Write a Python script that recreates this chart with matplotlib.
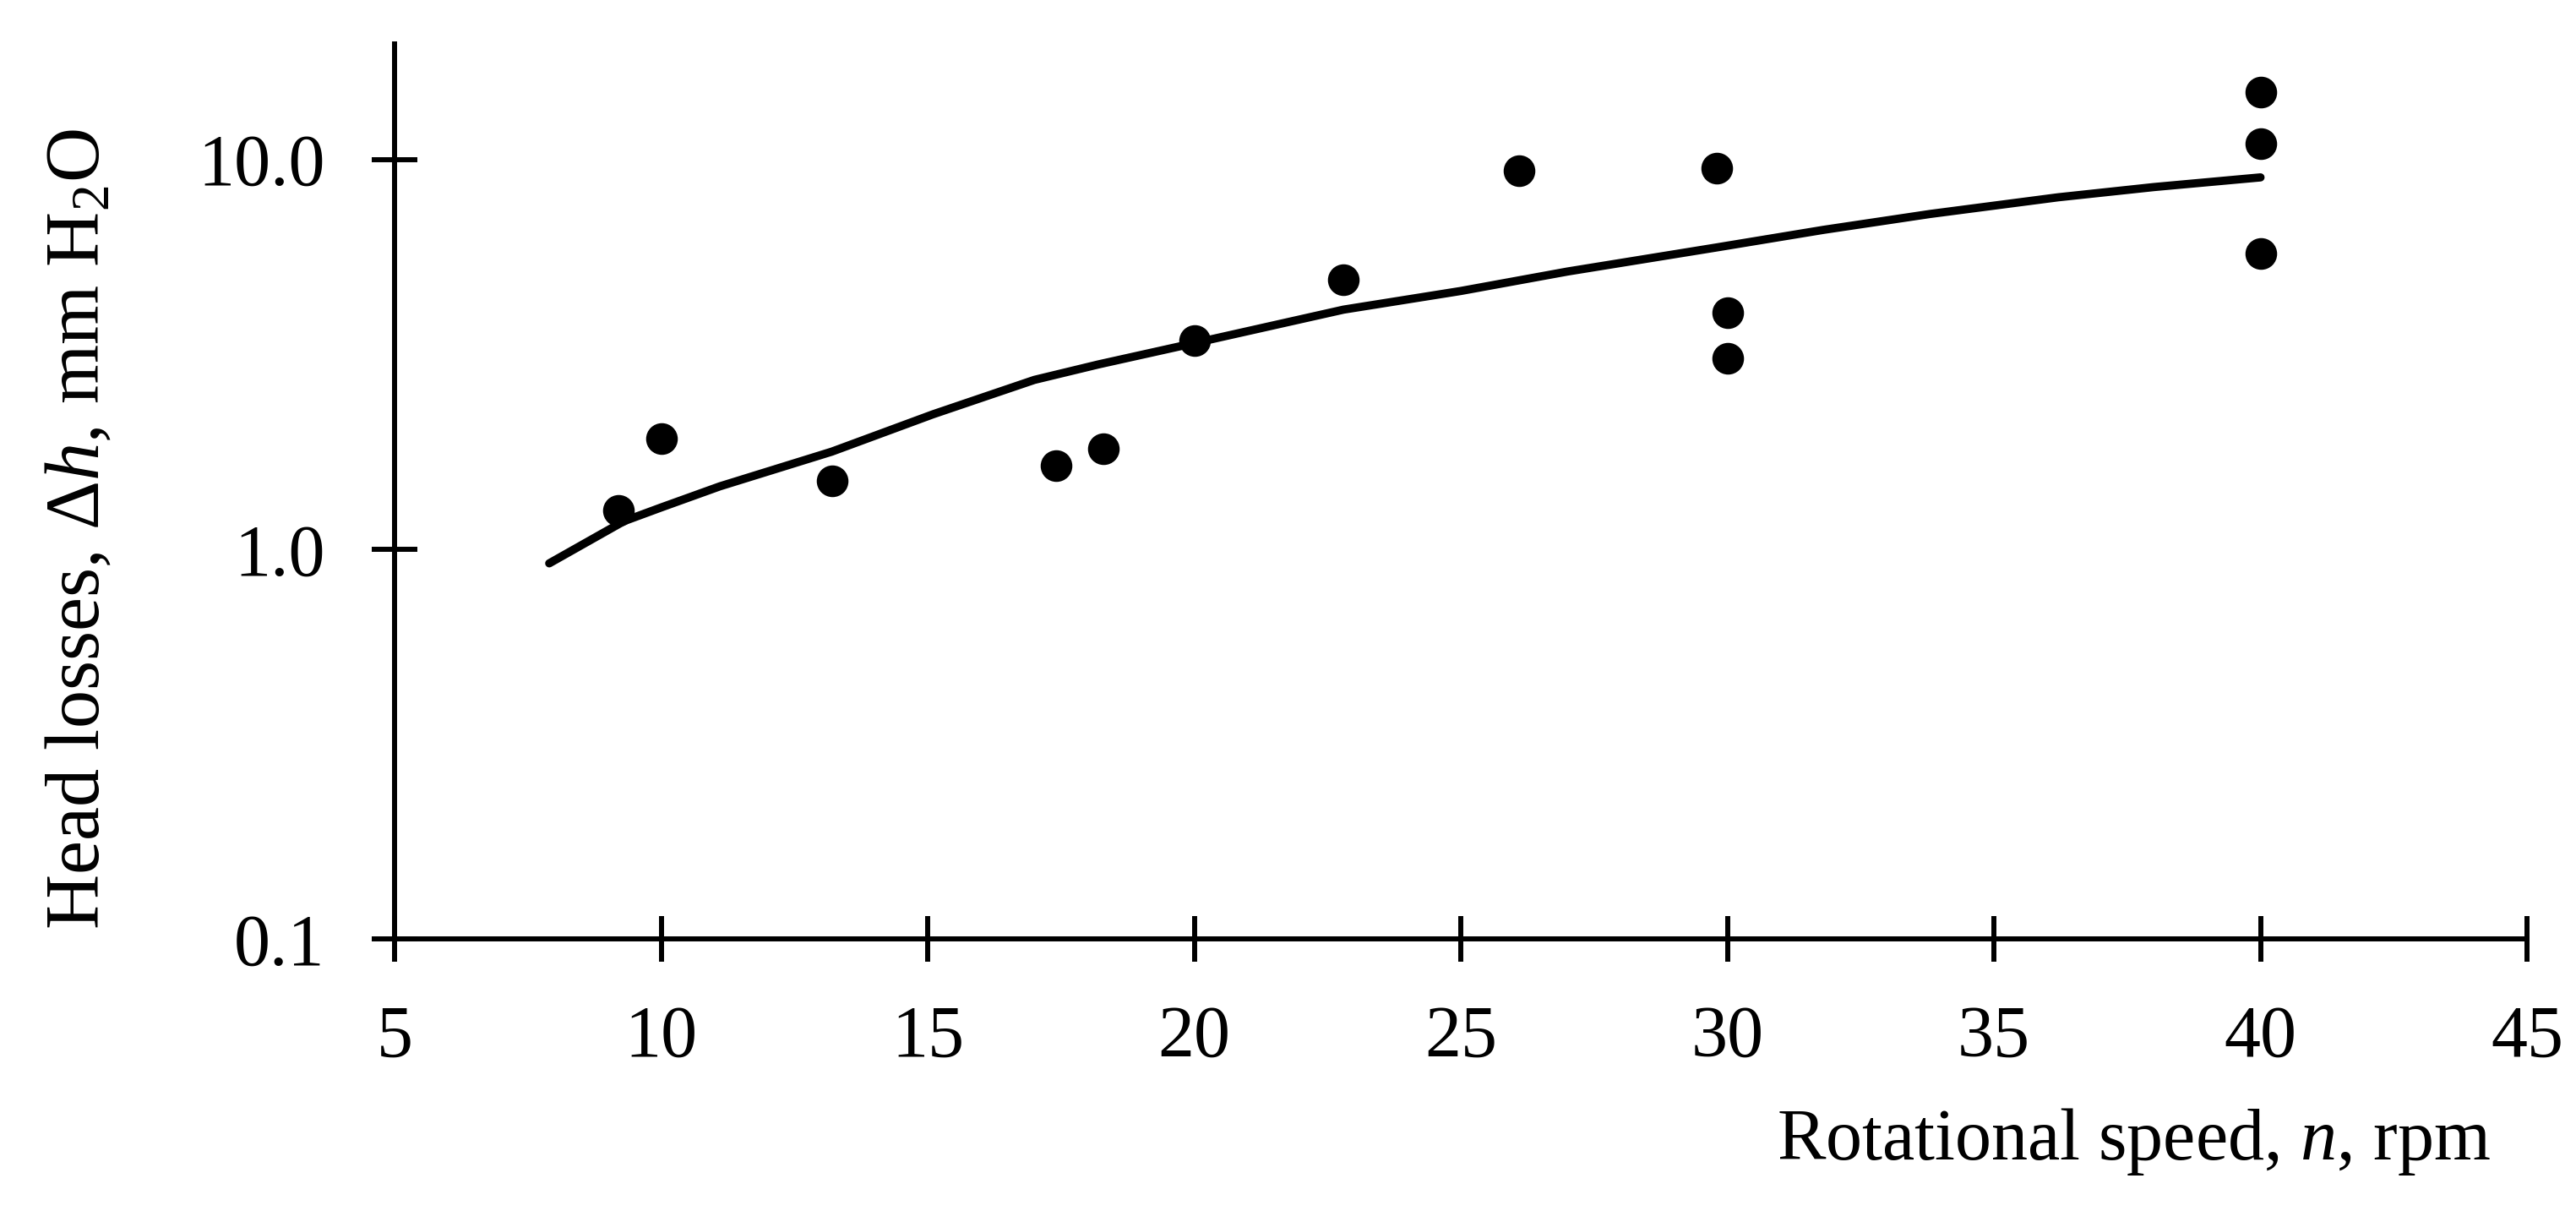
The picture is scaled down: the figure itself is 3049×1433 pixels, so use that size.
import numpy as np
import matplotlib
matplotlib.use("Agg")
import matplotlib.pyplot as plt
from matplotlib.ticker import FixedLocator, FixedFormatter, NullLocator

plt.rcParams["font.family"] = ["Liberation Serif", "DejaVu Serif"]
plt.rcParams["mathtext.fontset"] = "custom"
plt.rcParams["mathtext.rm"] = "Liberation Serif"
plt.rcParams["mathtext.it"] = "Liberation Serif:italic"

# measured points: rotational speed (rpm) vs head losses (mm H2O)
speed = [9.2, 10.0, 13.2, 17.4, 18.3, 20.0, 22.8, 26.1, 29.8, 30.0, 30.0, 40.0, 40.0, 40.0]
head = [1.26, 1.92, 1.50, 1.64, 1.81, 3.43, 4.92, 9.34, 9.52, 4.05, 3.09, 14.9, 11.0, 5.75]

# fitted curve
fit_x = [7.9, 9.3, 10.0, 11.1, 13.2, 15.1, 17.0, 18.2, 20.0, 22.8, 25.0, 27.0, 29.8, 31.8, 33.8, 36.2, 38.0, 40.0]
fit_y = [0.92, 1.18, 1.28, 1.45, 1.78, 2.22, 2.72, 2.98, 3.38, 4.12, 4.6, 5.16, 5.95, 6.6, 7.25, 8.0, 8.5, 9.0]

xticks = [5, 10, 15, 20, 25, 30, 35, 40, 45]
yticks = [0.1, 1.0, 10.0]
ytick_labels = ["0.1", "1.0", "10.0"]

fig = plt.figure(figsize=(30.49, 14.33), dpi=100)
ax = fig.add_axes([0.1532, 0.2247, 0.981 - 0.1532, 0.739])

ax.plot(fit_x, fit_y, color="black", lw=7, solid_capstyle="round",
        solid_joinstyle="round", zorder=2)
ax.plot(speed, head, "o", color="black", ms=26, zorder=3)

ax.set_yscale("log")
ax.set_xlim(5, 45)
ax.set_ylim(0.1, 19.8)
ax.xaxis.set_major_locator(FixedLocator(xticks))
ax.yaxis.set_major_locator(FixedLocator(yticks))
ax.yaxis.set_major_formatter(FixedFormatter(ytick_labels))
ax.yaxis.set_minor_locator(NullLocator())

for s in ["top", "right"]:
    ax.spines[s].set_visible(False)
for s in ["left", "bottom"]:
    ax.spines[s].set_linewidth(4.3)

ax.tick_params(axis="both", direction="inout", length=39, width=4.3, labelsize=62)
ax.tick_params(axis="y", pad=40)
ax.tick_params(axis="x", pad=37)

fig.text(0.031, 0.563, r"Head losses, $\mathit{\Delta h}$, mm H$_2$O", rotation=90,
         ha="center", va="center", fontsize=65)
fig.text(0.967, 0.0426, r"Rotational speed, $\mathit{n}$, rpm", ha="right", va="baseline",
         fontsize=62)

fig.savefig("out.png", dpi=100)
